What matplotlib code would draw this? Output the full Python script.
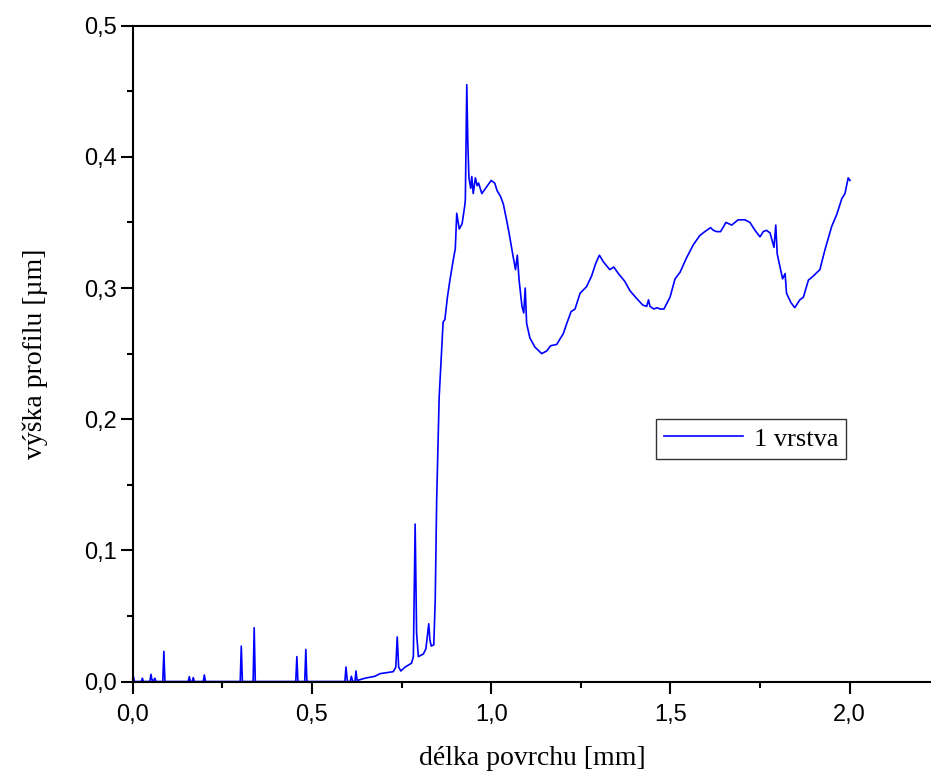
#!/usr/bin/env python3
# -*- coding: utf-8 -*-

import matplotlib
matplotlib.use("Agg")
import matplotlib.pyplot as plt
from matplotlib.ticker import MultipleLocator, FuncFormatter

# profil - cast u nuly (uzke spicky na zakladne)
flat_x = [0.000, 0.002, 0.005, 0.024, 0.027, 0.030, 0.048, 0.051, 0.054, 0.059, 0.062, 0.065,
          0.084, 0.087, 0.090, 0.155, 0.158, 0.161, 0.166, 0.169, 0.172, 0.197, 0.200, 0.203,
          0.300, 0.303, 0.306, 0.336, 0.339, 0.342, 0.455, 0.458, 0.461, 0.480, 0.483, 0.486,
          0.592, 0.595, 0.599, 0.607, 0.610, 0.614, 0.620, 0.623, 0.626, 0.629, 0.648, 0.676]
flat_y = [0.000, 0.004, 0.000, 0.000, 0.0025, 0.000, 0.000, 0.0055, 0.001, 0.001, 0.0025, 0.000,
          0.000, 0.023, 0.000, 0.000, 0.0037, 0.000, 0.000, 0.003, 0.000, 0.000, 0.005, 0.000,
          0.000, 0.027, 0.000, 0.000, 0.041, 0.000, 0.000, 0.019, 0.000, 0.000, 0.0245, 0.000,
          0.000, 0.011, 0.000, 0.000, 0.004, 0.000, 0.000, 0.008, 0.001, 0.001, 0.0025, 0.004]

# nabeh vrstvy
rise_x = [0.690, 0.708, 0.727, 0.734, 0.738, 0.742, 0.748, 0.760, 0.778, 0.783, 0.788, 0.792,
          0.797, 0.811, 0.818, 0.826, 0.829, 0.833, 0.840, 0.844, 0.848, 0.855, 0.866, 0.871,
          0.878, 0.885, 0.894, 0.900, 0.904, 0.911, 0.919, 0.926, 0.928, 0.932, 0.935, 0.938,
          0.943, 0.946, 0.950, 0.956, 0.961, 0.965, 0.974, 0.987]
rise_y = [0.006, 0.0067, 0.0075, 0.011, 0.034, 0.011, 0.008, 0.011, 0.014, 0.019, 0.120, 0.037,
          0.019, 0.021, 0.025, 0.044, 0.032, 0.027, 0.028, 0.062, 0.138, 0.217, 0.274, 0.276,
          0.293, 0.306, 0.321, 0.330, 0.357, 0.345, 0.349, 0.362, 0.367, 0.455, 0.410, 0.384,
          0.376, 0.385, 0.372, 0.384, 0.378, 0.380, 0.372, 0.377]

# vrstva
top_x = [1.000, 1.010, 1.017, 1.026, 1.034, 1.043, 1.050, 1.060, 1.068, 1.073, 1.078, 1.086,
         1.091, 1.095, 1.099, 1.108, 1.122, 1.141, 1.155, 1.166, 1.183, 1.194, 1.201, 1.211,
         1.223, 1.234, 1.248, 1.266, 1.280, 1.292, 1.302, 1.313, 1.331, 1.342, 1.355, 1.373,
         1.387, 1.406, 1.423, 1.434, 1.439, 1.443, 1.454, 1.463, 1.471, 1.482, 1.499, 1.513,
         1.527, 1.545, 1.564, 1.582, 1.596, 1.612, 1.620, 1.629, 1.640, 1.655, 1.671, 1.689,
         1.708, 1.722, 1.736, 1.750, 1.759, 1.768, 1.778, 1.789, 1.794, 1.798, 1.806, 1.813,
         1.820, 1.824, 1.836, 1.847, 1.861, 1.871, 1.885, 1.898, 1.917, 1.931, 1.950, 1.964,
         1.978, 1.987, 1.996, 2.001]
top_y = [0.382, 0.380, 0.374, 0.370, 0.364, 0.352, 0.342, 0.326, 0.314, 0.325, 0.306, 0.286,
         0.281, 0.300, 0.273, 0.262, 0.255, 0.250, 0.252, 0.256, 0.257, 0.262, 0.265, 0.273,
         0.282, 0.284, 0.296, 0.301, 0.309, 0.319, 0.325, 0.320, 0.314, 0.316, 0.311, 0.305,
         0.298, 0.292, 0.287, 0.286, 0.291, 0.286, 0.284, 0.285, 0.284, 0.284, 0.293, 0.307,
         0.312, 0.323, 0.333, 0.340, 0.343, 0.346, 0.344, 0.343, 0.343, 0.350, 0.348, 0.352,
         0.352, 0.350, 0.344, 0.339, 0.343, 0.344, 0.342, 0.331, 0.348, 0.326, 0.316, 0.307,
         0.311, 0.296, 0.289, 0.285, 0.291, 0.293, 0.306, 0.309, 0.314, 0.329, 0.347, 0.356,
         0.368, 0.372, 0.384, 0.382]

delka = flat_x + rise_x + top_x
vyska = flat_y + rise_y + top_y

fig = plt.figure(figsize=(9.31, 7.74), dpi=100)
ax = fig.add_axes([0.1425, 0.1195, 0.8575, 0.8473])

ax.plot(delka, vyska, color="#0000ff", lw=1.2, label="1 vrstva")

ax.set_xlim(0, 2.227)
ax.set_ylim(0, 0.5)

# osy
ax.spines["right"].set_visible(False)
for s in ("left", "bottom", "top"):
    ax.spines[s].set_linewidth(1.5)

ax.xaxis.set_major_locator(MultipleLocator(0.5))
ax.xaxis.set_minor_locator(MultipleLocator(0.25))
ax.yaxis.set_major_locator(MultipleLocator(0.1))
ax.yaxis.set_minor_locator(MultipleLocator(0.05))
carka = FuncFormatter(lambda v, p: ("%.1f" % v).replace(".", ","))
ax.xaxis.set_major_formatter(carka)
ax.yaxis.set_major_formatter(carka)

ax.tick_params(which="both", direction="out", top=False, right=False, width=1.5)
ax.tick_params(which="major", length=8.5, labelsize=17, labelfontfamily="Liberation Sans")
ax.tick_params(which="minor", length=4.5)
ax.tick_params(axis="x", which="major", pad=8)
ax.tick_params(axis="y", which="major", pad=3)

ax.set_xlabel("délka povrchu [mm]", fontfamily="Liberation Serif", fontsize=20, labelpad=14)
ax.set_ylabel("výška profilu [µm]", fontfamily="Liberation Serif", fontsize=20, labelpad=26)

leg = ax.legend(loc="center", bbox_to_anchor=(0.775, 0.370), frameon=True, fancybox=False,
                prop={"family": "Liberation Serif", "size": 19}, handlelength=3.0,
                borderpad=0.3, handletextpad=0.4, borderaxespad=0)
leg.get_frame().set_edgecolor("black")
leg.get_frame().set_linewidth(1.0)

fig.savefig("out.png", dpi=100)
